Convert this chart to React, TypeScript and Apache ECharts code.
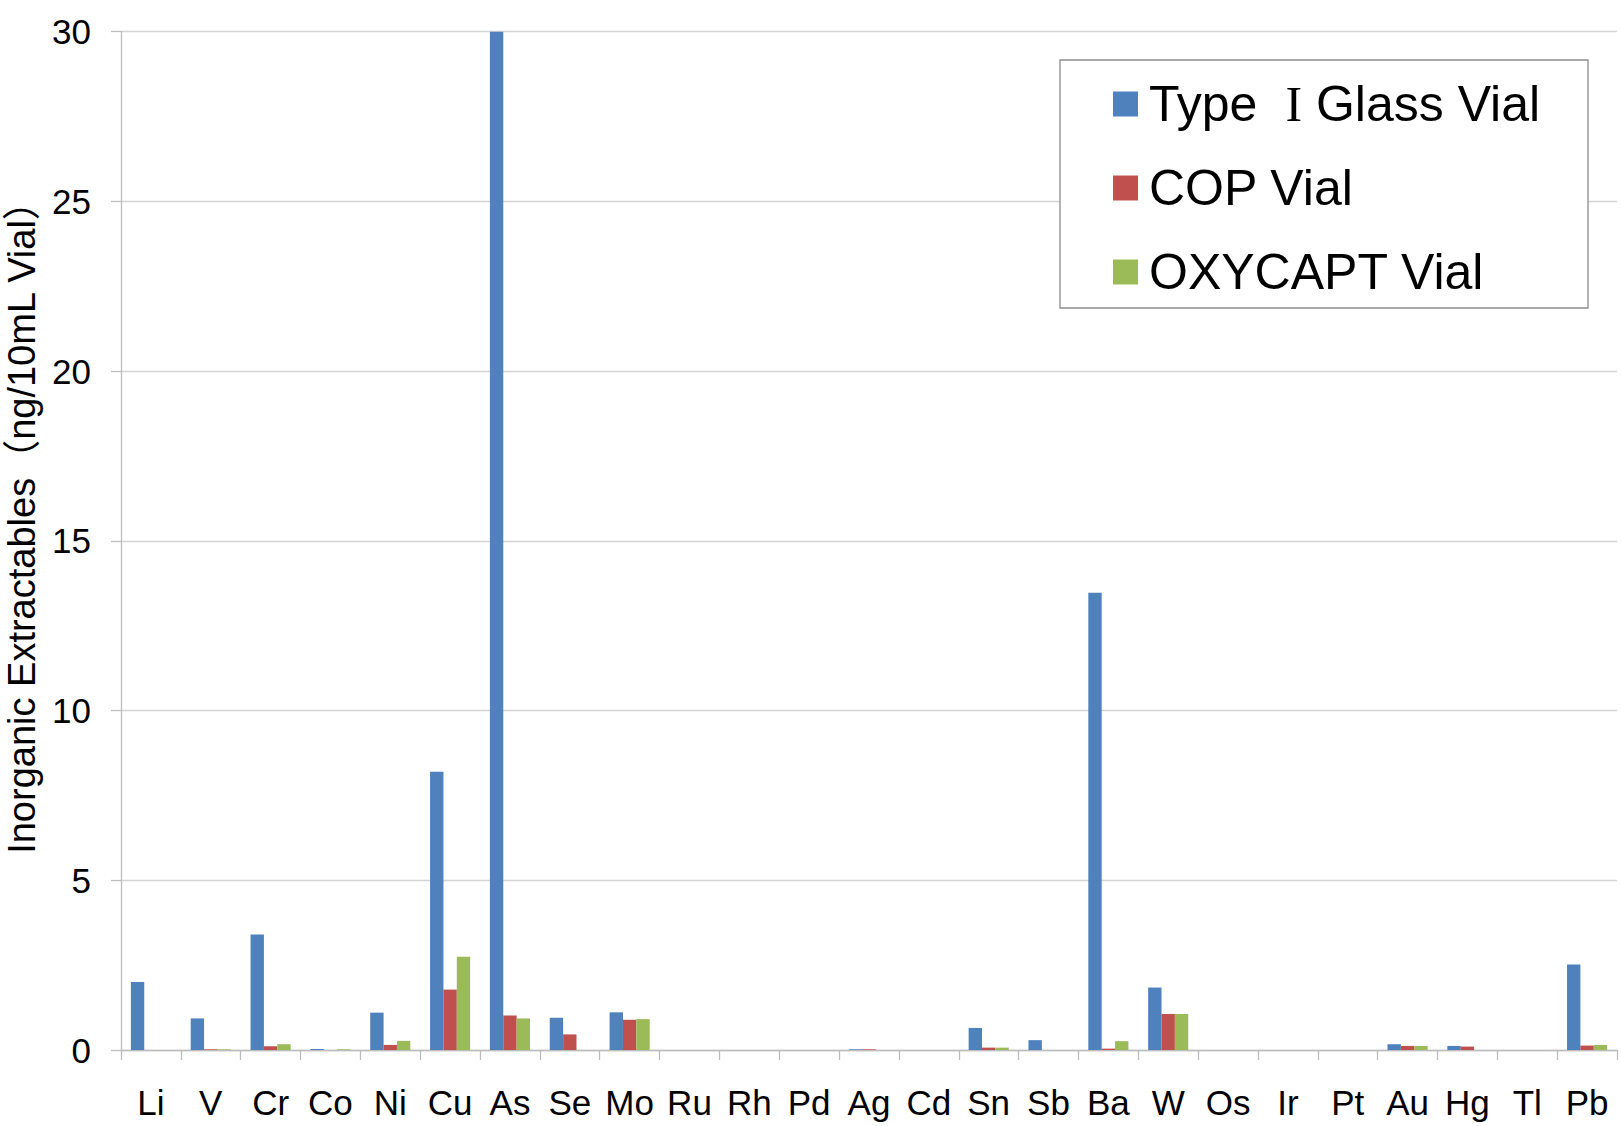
import React, { useEffect, useRef } from "react";
import * as echarts from "echarts";

const categories = ["Li", "V", "Cr", "Co", "Ni", "Cu", "As", "Se", "Mo", "Ru", "Rh", "Pd", "Ag", "Cd", "Sn", "Sb", "Ba", "W", "Os", "Ir", "Pt", "Au", "Hg", "Tl", "Pb"];
const glassValues = [2.0, 0.93, 3.4, 0.03, 1.1, 8.2, 31, 0.95, 1.11, 0, 0, 0, 0.02, 0, 0.65, 0.29, 13.47, 1.84, 0, 0, 0, 0.17, 0.12, 0, 2.52];
const copValues = [0, 0.02, 0.11, 0, 0.15, 1.78, 1.02, 0.46, 0.89, 0, 0, 0, 0.02, 0, 0.07, 0, 0.04, 1.06, 0, 0, 0, 0.12, 0.1, 0, 0.13];
const oxycaptValues = [0, 0.02, 0.17, 0.02, 0.27, 2.75, 0.93, 0, 0.91, 0, 0, 0, 0, 0, 0.07, 0, 0.26, 1.06, 0, 0, 0, 0.12, 0, 0, 0.15];
const seriesNames = ["Type Ⅰ Glass Vial", "COP Vial", "OXYCAPT Vial"];
const seriesColors = ["#4F81BD", "#C0504D", "#9BBB59"];
const yTicks = { min: 0, max: 30, interval: 5 };
const yAxisTitle = "Inorganic Extractables（ng/10mL Vial）";

const FONT = "Arial, 'Liberation Sans', 'Noto Sans CJK JP', sans-serif";

export default function App() {
  const ref = useRef<HTMLDivElement>(null);
  useEffect(() => {
    document.body.style.margin = "0";
    const chart = echarts.init(ref.current!, null, { renderer: "svg" });
    const dataSets = [glassValues, copValues, oxycaptValues];
    chart.setOption({
      animation: false,
      backgroundColor: "#ffffff",
      textStyle: { fontFamily: FONT, color: "#000" },
      grid: { left: 121, right: 4, top: 31.7, bottom: 76, containLabel: false },
      graphic: [
        {
          type: "rect",
          shape: { x: 1060, y: 60, width: 528, height: 248 },
          style: { fill: "#fff", stroke: "#8C8C8C", lineWidth: 1.3 },
          z: 5,
        },
        {
          type: "text",
          x: 22,
          y: 518,
          rotation: Math.PI / 2,
          style: {
            text: yAxisTitle,
            fontSize: 38,
            fontFamily: FONT,
            fill: "#000",
            align: "center",
            verticalAlign: "middle",
          },
          z: 5,
        },
      ],
      legend: {
        orient: "vertical",
        left: 1108,
        top: 74,
        itemWidth: 25,
        itemHeight: 25,
        itemGap: 34,
        icon: "rect",
        z: 10,
        formatter: (name: string) =>
          name === seriesNames[0] ? "Type{s|I} Glass Vial" : name,
        textStyle: {
          fontSize: 50,
          color: "#000",
          fontFamily: FONT,
          padding: [0, 0, 0, 6],
          rich: {
            s: {
              fontSize: 50,
              fontFamily: "'Liberation Serif', 'DejaVu Serif', serif",
              color: "#000",
              padding: [0, 0, 0, 28],
            },
          },
        },
        data: seriesNames,
      },
      xAxis: {
        type: "category",
        data: categories,
        axisLine: { lineStyle: { color: "#BDBDBD", width: 1.3 } },
        axisTick: { show: true, length: 10, lineStyle: { color: "#BDBDBD", width: 1.3 } },
        axisLabel: { fontSize: 35, color: "#000", margin: 35, fontFamily: FONT, interval: 0 },
      },
      yAxis: {
        type: "value",
        min: yTicks.min,
        max: yTicks.max,
        interval: yTicks.interval,
        axisLine: { show: true, lineStyle: { color: "#BDBDBD", width: 1.3 } },
        axisTick: { show: true, length: 10, lineStyle: { color: "#BDBDBD", width: 1.3 } },
        axisLabel: { fontSize: 35, color: "#000", margin: 30, fontFamily: FONT },
        splitLine: { lineStyle: { color: "#D4D4D4", width: 1.3 } },
      },
      series: dataSets.map((d, i) => ({
        name: seriesNames[i],
        type: "bar",
        data: d,
        barGap: "0%",
        barCategoryGap: "33%",
        itemStyle: { color: seriesColors[i] },
      })),
    });
    return () => chart.dispose();
  }, []);
  return (
    <div
      ref={ref}
      style={{ position: "absolute", left: 0, top: 0, width: 1621, height: 1126 }}
    />
  );
}
